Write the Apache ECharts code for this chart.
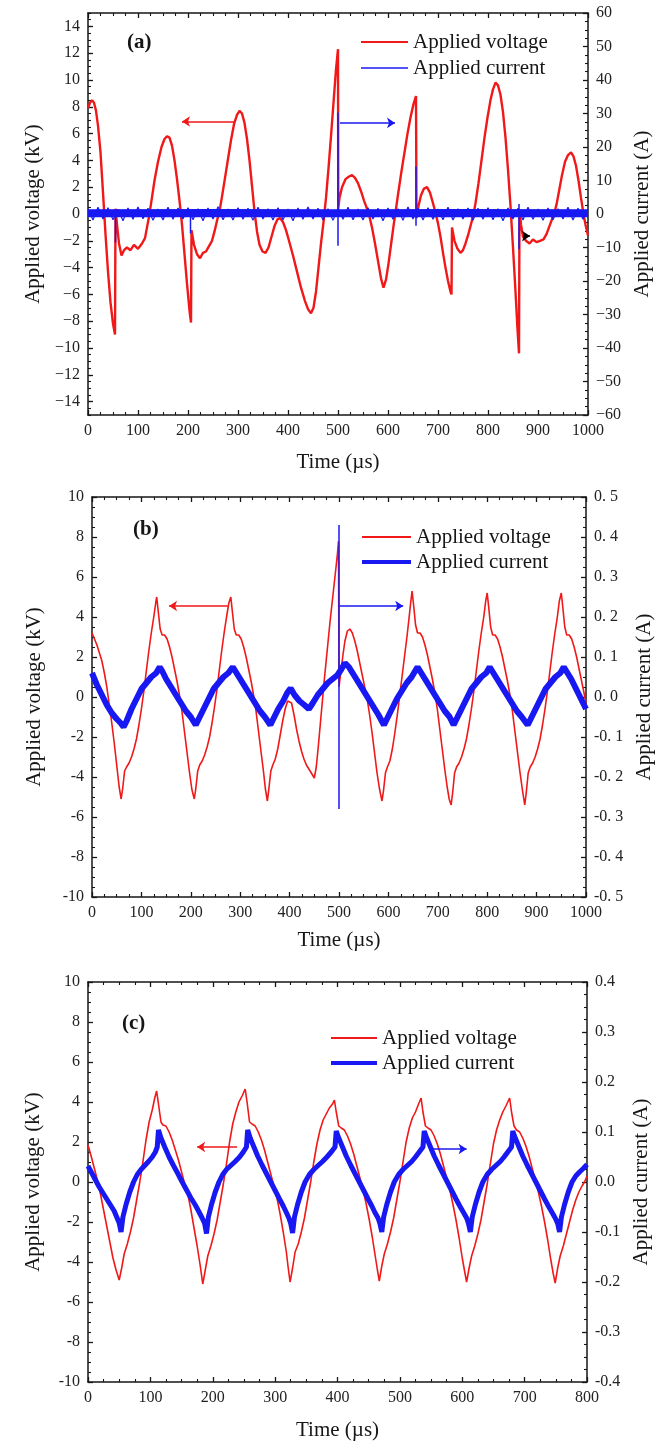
<!DOCTYPE html>
<html><head><meta charset="utf-8">
<script src="https://cdn.jsdelivr.net/npm/echarts@6/dist/echarts.min.js"></script>
<style>html,body{margin:0;padding:0;background:#fff}#c{width:665px;height:1443px}</style>
</head><body><div id="c"></div>
<script>
// ---------- DATA ----------
// Panel (a): time (µs), voltage (kV)
const aVoltage = [[0,7.9],[4,8.3],[8,8.5],[12,8.3],[16,7.7],[20,6.6],[25,4.6],[30,1.6],[35,-1.5],[40,-4.3],[45,-6.6],[50,-8.2],[54,-9.0],
[55,0.4],[58,-0.8],[62,-2.2],[67,-3.1],[72,-2.7],[78,-2.5],[85,-2.7],[92,-2.3],[100,-2.6],[108,-2.2],[114,-1.8],[118,-1.0],[122,-0.2],[127,1.0],[133,2.5],[140,3.9],[147,5.0],[153,5.6],[158,5.8],[163,5.7],[168,5.1],[173,4.0],[178,2.6],[183,1.0],[188,-0.8],[193,-3.0],[198,-5.2],[203,-7.2],[206,-8.1],
[207,-1.2],[212,-2.3],[218,-3.0],[224,-3.3],[230,-2.9],[236,-2.8],[242,-2.4],[248,-2.0],[253,-1.3],[258,-0.5],[263,0.2],[268,1.3],[274,2.7],[280,4.1],[286,5.5],[292,6.7],[298,7.4],[303,7.7],[308,7.5],[313,6.8],[318,5.6],[323,4.0],[328,2.1],[333,0.2],[338,-1.3],[343,-2.3],[349,-2.8],[355,-2.9],[361,-2.5],[367,-1.7],[373,-0.9],[379,-0.4],[384,-0.3],[390,-0.6],[396,-1.2],[402,-2.0],[410,-3.1],[418,-4.3],[426,-5.5],[434,-6.5],[440,-7.1],[446,-7.4],[451,-7.0],[456,-5.8],[461,-4.0],[466,-2.2],[471,-0.6],[476,1.2],[481,3.4],[486,5.8],[491,8.3],[496,10.8],[500,12.3],
[500.5,0.4],[503,1.2],[508,2.0],[515,2.6],[522,2.8],[528,2.9],[534,2.7],[540,2.3],[546,1.7],[552,1.0],[558,0.4],[563,-0.2],[568,-1.0],[574,-2.2],[580,-3.5],[586,-4.8],[591,-5.5],[596,-4.9],[601,-3.7],[606,-2.3],[611,-0.9],[616,0.4],[621,1.7],[627,3.2],[633,4.6],[639,6.0],[645,7.2],[651,8.2],[656,8.8],
[657,-0.3],[661,0.6],[666,1.4],[672,1.9],[678,2.0],[684,1.6],[690,0.8],[695,0.1],[700,-0.7],[705,-1.7],[710,-2.9],[715,-4.0],[720,-5.0],[725,-5.8],[727,-6.0],
[728,-1.0],[733,-2.0],[739,-2.6],[745,-2.9],[750,-2.7],[755,-2.2],[760,-1.6],[765,-0.9],[770,-0.2],[775,0.8],[781,2.3],[787,4.0],[793,5.7],[799,7.2],[805,8.5],[810,9.3],[815,9.8],[820,9.6],[825,8.9],[830,7.6],[835,5.7],[840,3.3],[845,0.6],[850,-2.5],[855,-5.8],[859,-8.6],[862,-10.4],
[863,0.3],[866,-0.8],[870,-1.7],[876,-2.0],[883,-2.2],[890,-1.9],[897,-2.1],[904,-2.0],[911,-1.9],[917,-1.5],[922,-1.0],[927,-0.5],[932,0.0],[937,0.7],[942,1.7],[948,2.9],[954,3.9],[960,4.4],[966,4.6],[971,4.3],[976,3.6],[981,2.5],[986,1.2],[991,0.0],[995,-0.8],[1000,-1.6]];
// Panel (a): current (A) – baseline band, its noise, and the discharge spikes
const aCurrentBand = [[0,0.2],[250,0.3],[500,0.2],[750,0.3],[1000,0.2]];
const aCurrentNoise = [[0,1.6],[10,-1.8],[20,2.0],[30,-1.5],[40,1.9],[50,-1.7],[60,1.4],[70,-2.0],[80,1.8],[90,-1.6],[100,2.1],[110,-1.4],[120,1.7],[130,-1.9],[140,1.5],[150,-1.8],[160,2.0],[170,-1.6],[180,1.8],[190,-1.5],[200,1.9],[210,-1.7],[220,1.6],[230,-2.0],[240,1.8],[250,-1.5],[260,2.2],[270,-1.7],[280,1.5],[290,-1.8],[300,1.9],[310,-1.6],[320,1.7],[330,-1.9],[340,2.0],[350,-1.5],[360,1.6],[370,-1.8],[380,1.9],[390,-1.7],[400,1.5],[410,-2.0],[420,1.8],[430,-1.6],[440,2.1],[450,-1.5],[460,1.7],[470,-1.8],[480,1.6],[490,-1.9],[500,1.8],[510,-1.6],[520,2.0],[530,-1.7],[540,1.5],[550,-1.8],[560,1.9],[570,-1.5],[580,1.7],[590,-2.0],[600,1.8],[610,-1.6],[620,1.6],[630,-1.9],[640,2.1],[650,-1.5],[660,1.7],[670,-1.8],[680,1.9],[690,-1.6],[700,1.5],[710,-1.7],[720,2.0],[730,-1.8],[740,1.6],[750,-1.5],[760,1.8],[770,-1.9],[780,1.7],[790,-1.6],[800,1.9],[810,-1.7],[820,1.6],[830,-2.0],[840,1.8],[850,-1.5],[860,1.7],[870,-1.8],[880,2.0],[890,-1.6],[900,1.5],[910,-1.9],[920,1.8],[930,-1.7],[940,1.6],[950,-1.5],[960,2.0],[970,-1.8],[980,1.7],[990,-1.6],[1000,1.5]];
const aCurrentSpikes = [[55,0.8],[55,-8.5],[55,'-'],[205,0.6],[205,-5.8],[205,'-'],[500,30.3],[500,-9.5],[500,'-'],[656,14.2],[656,-3.5],[656,'-'],[862,3.0],[862,-10.5]];

// Panel (b)
const bVoltage = [[0,3.2],[5,2.9],[10,2.6],[15,2.2],[20,1.8],[25,1.2],[30,0.5],[35,-0.4],[40,-1.3],[45,-2.3],[50,-3.4],[55,-4.5],[59,-5.1],[62,-4.6],[66,-3.7],[70,-3.5],[75,-3.3],[80,-3.0],[85,-2.6],[90,-2.1],[95,-1.4],[100,-0.6],[105,0.3],[110,1.3],[115,2.3],[120,3.2],[125,4.0],[129,4.7],[131,5.0],[134,4.3],[138,3.4],[142,3.1],[147,3.1],[152,2.9],[157,2.5],[162,2.0],[167,1.4],[172,0.8],[177,0.1],[182,-0.7],[187,-1.7],[192,-2.7],[197,-3.7],[202,-4.6],[207,-5.1],[210,-4.6],[214,-3.7],[218,-3.4],[223,-3.2],[228,-2.9],[233,-2.5],[238,-2.0],[243,-1.3],[248,-0.5],[253,0.4],[258,1.4],[263,2.4],[268,3.3],[273,4.1],[277,4.7],[281,5.0],[284,4.3],[288,3.4],[292,3.1],[297,3.1],[302,2.9],[307,2.5],[312,2.0],[317,1.4],[322,0.8],[327,0.1],[332,-0.7],[337,-1.7],[342,-2.7],[347,-3.7],[351,-4.6],[355,-5.2],[358,-4.6],[362,-3.7],[366,-3.4],[371,-3.1],[376,-2.6],[381,-1.9],[386,-1.2],[391,-0.6],[396,-0.2],[400,-0.1],[404,-0.3],[409,-0.9],[414,-1.6],[419,-2.2],[424,-2.7],[429,-3.1],[434,-3.4],[439,-3.6],[444,-3.8],[450,-4.05],[454,-3.5],[458,-2.5],[462,-1.4],[466,-0.3],[470,0.8],[474,1.8],[478,2.8],[482,3.8],[486,4.7],[490,5.6],[494,6.5],[497,7.2],[499,7.8],[500,0.5],[504,1.3],[508,2.1],[512,2.8],[517,3.3],[522,3.4],[527,3.2],[532,2.8],[537,2.3],[542,1.7],[547,1.1],[552,0.5],[557,-0.1],[562,-0.9],[567,-1.8],[572,-2.8],[577,-3.8],[582,-4.6],[587,-5.2],[590,-4.7],[594,-3.8],[598,-3.5],[603,-3.2],[608,-2.6],[613,-1.8],[618,-0.9],[623,0.1],[628,1.1],[633,2.1],[638,3.1],[642,4.0],[645,4.7],[648,5.3],[651,4.6],[655,3.6],[659,3.2],[664,3.2],[669,3.0],[674,2.6],[679,2.1],[684,1.5],[689,0.9],[694,0.2],[699,-0.6],[704,-1.6],[709,-2.6],[714,-3.6],[719,-4.5],[723,-5.1],[727,-5.4],[730,-4.8],[734,-3.8],[738,-3.5],[743,-3.3],[748,-3.0],[753,-2.6],[758,-2.1],[763,-1.4],[768,-0.6],[773,0.3],[778,1.3],[783,2.3],[788,3.2],[793,4.0],[797,4.8],[800,5.2],[803,4.5],[807,3.5],[811,3.1],[816,3.1],[821,2.9],[826,2.5],[831,2.0],[836,1.4],[841,0.8],[846,0.1],[851,-0.7],[856,-1.7],[861,-2.7],[866,-3.7],[871,-4.6],[876,-5.4],[879,-4.8],[883,-3.8],[887,-3.5],[892,-3.3],[897,-3.0],[902,-2.6],[907,-2.1],[912,-1.4],[917,-0.6],[922,0.3],[927,1.3],[932,2.3],[937,3.2],[942,4.0],[946,4.8],[950,5.2],[953,4.5],[957,3.5],[961,3.1],[966,3.1],[971,2.9],[976,2.5],[981,2.0],[986,1.4],[991,0.8],[996,0.2],[1000,-0.3]];
const bCurrent = [[0,0.06],[10,0.03],[20,0.005],[30,-0.02],[40,-0.04],[50,-0.055],[58,-0.065],[64,-0.075],[70,-0.06],[80,-0.03],[90,-0.005],[100,0.02],[110,0.035],[120,0.05],[130,0.06],[137,0.075],[142,0.065],[150,0.045],[160,0.025],[170,0.005],[180,-0.015],[190,-0.035],[200,-0.05],[210,-0.07],[216,-0.055],[226,-0.03],[236,-0.005],[246,0.02],[256,0.035],[266,0.05],[276,0.06],[285,0.075],[290,0.065],[300,0.045],[310,0.025],[320,0.005],[330,-0.015],[340,-0.035],[350,-0.05],[361,-0.07],[367,-0.055],[377,-0.03],[387,-0.01],[395,0.01],[402,0.022],[410,0.005],[420,-0.01],[430,-0.02],[439,-0.03],[447,-0.015],[457,0.005],[467,0.02],[477,0.035],[487,0.045],[497,0.055],[505,0.07],[512,0.085],[520,0.075],[530,0.055],[540,0.035],[550,0.015],[560,-0.005],[570,-0.025],[580,-0.045],[591,-0.07],[597,-0.055],[607,-0.03],[617,-0.005],[627,0.015],[637,0.035],[647,0.05],[659,0.075],[664,0.065],[674,0.045],[684,0.025],[694,0.005],[704,-0.015],[714,-0.035],[724,-0.05],[732,-0.07],[738,-0.055],[748,-0.03],[758,-0.005],[768,0.02],[778,0.035],[788,0.05],[798,0.06],[805,0.075],[810,0.065],[820,0.045],[830,0.025],[840,0.005],[850,-0.015],[860,-0.035],[870,-0.05],[882,-0.07],[888,-0.055],[898,-0.03],[908,-0.005],[918,0.02],[928,0.035],[938,0.05],[948,0.06],[955,0.075],[960,0.065],[970,0.045],[980,0.02],[990,-0.005],[1000,-0.03]];
const bCurrentSpike = [[500,0.43],[500,-0.28]];

// Panel (c)
const cVoltage = [[0,1.85],[5,1.3],[10,0.7],[15,0.1],[20,-0.6],[25,-1.4],[30,-2.2],[35,-3.0],[40,-3.8],[45,-4.4],[50,-4.9],[54,-4.3],[58,-3.6],[63,-3.1],[68,-2.5],[73,-1.8],[78,-0.9],[83,0.0],[88,1.0],[93,2.1],[98,3.0],[103,3.6],[107,4.2],[110,4.55],[113,3.9],[117,3.0],[120,2.85],[125,2.8],[130,2.5],[135,2.1],[140,1.6],[145,1.1],[150,0.5],[155,-0.1],[160,-0.6],[165,-1.4],[170,-2.3],[175,-3.2],[180,-4.2],[184,-5.1],[188,-4.4],[192,-3.7],[197,-3.2],[202,-2.6],[207,-1.9],[212,-1.0],[217,-0.1],[222,0.9],[227,2.0],[232,2.9],[237,3.5],[242,4.0],[247,4.3],[252,4.65],[255,4.0],[259,3.0],[263,2.9],[268,2.8],[273,2.5],[278,2.1],[283,1.6],[288,1.0],[293,0.4],[298,-0.2],[303,-0.8],[308,-1.6],[313,-2.5],[318,-3.5],[321,-4.3],[324,-5.0],[328,-4.3],[332,-3.5],[337,-3.1],[342,-2.5],[347,-1.8],[352,-0.9],[357,0.0],[362,1.0],[367,1.9],[372,2.6],[377,3.1],[382,3.4],[387,3.7],[392,3.9],[395,4.1],[398,3.5],[402,2.8],[406,2.7],[411,2.6],[416,2.3],[421,1.9],[426,1.4],[431,0.8],[436,0.2],[441,-0.4],[446,-1.1],[451,-1.9],[456,-2.8],[461,-3.8],[464,-4.4],[467,-4.95],[471,-4.2],[475,-3.6],[480,-3.1],[485,-2.5],[490,-1.8],[495,-0.9],[500,0.0],[505,1.0],[510,2.0],[515,2.7],[520,3.2],[525,3.5],[530,3.9],[534,4.2],[537,3.5],[541,2.8],[545,2.7],[550,2.6],[555,2.3],[560,1.9],[565,1.4],[570,0.8],[575,0.2],[580,-0.4],[585,-1.1],[590,-1.9],[595,-2.8],[600,-3.8],[604,-4.5],[607,-5.0],[611,-4.3],[615,-3.7],[620,-3.2],[625,-2.6],[630,-1.9],[635,-1.0],[640,-0.1],[645,0.9],[650,1.9],[655,2.6],[660,3.1],[665,3.5],[670,3.8],[673,4.0],[676,4.2],[679,3.5],[683,2.8],[687,2.6],[692,2.5],[697,2.2],[702,1.8],[707,1.3],[712,0.7],[717,0.1],[722,-0.5],[727,-1.2],[732,-2.0],[737,-2.9],[742,-3.9],[746,-4.6],[749,-5.05],[753,-4.3],[757,-3.7],[762,-3.2],[767,-2.6],[772,-2.0],[777,-1.4],[782,-0.9],[787,-0.5],[792,-0.2],[796,0.0],[800,0.3]];
const cCurrent = [[0,0.032],[6,0.018],[12,0.004],[18,-0.01],[24,-0.022],[30,-0.034],[36,-0.046],[42,-0.058],[46,-0.07],[50,-0.082],[53,-0.1],
[56,-0.07],[61,-0.045],[67,-0.02],[73,0.0],[79,0.015],[85,0.025],[91,0.033],[97,0.041],[103,0.05],[108,0.06],[111,0.07],[113,0.104],
[117,0.088],[123,0.07],[130,0.05],[137,0.033],[144,0.017],[151,0.0],[158,-0.016],[165,-0.032],[172,-0.046],[178,-0.06],[183,-0.072],[187,-0.083],[190,-0.103],
[193,-0.07],[198,-0.045],[204,-0.02],[210,0.0],[216,0.015],[222,0.025],[229,0.033],[236,0.041],[243,0.05],[249,0.06],[254,0.07],[256,0.104],
[260,0.088],[266,0.07],[272,0.052],[279,0.034],[286,0.017],[293,0.0],[300,-0.017],[307,-0.034],[313,-0.048],[318,-0.061],[322,-0.072],[325,-0.083],[328,-0.102],
[331,-0.07],[336,-0.045],[342,-0.02],[348,0.0],[355,0.015],[362,0.025],[369,0.033],[376,0.041],[383,0.05],[390,0.06],[396,0.07],[398,0.102],
[402,0.088],[408,0.07],[414,0.052],[421,0.034],[428,0.017],[435,0.0],[442,-0.017],[449,-0.034],[455,-0.048],[460,-0.061],[465,-0.072],[468,-0.083],[471,-0.1],
[474,-0.07],[479,-0.045],[485,-0.02],[491,0.0],[498,0.015],[505,0.025],[512,0.033],[519,0.041],[525,0.05],[531,0.06],[537,0.07],[539,0.102],
[543,0.088],[549,0.07],[555,0.052],[562,0.034],[569,0.017],[576,0.0],[583,-0.017],[590,-0.034],[596,-0.048],[602,-0.061],[607,-0.072],[610,-0.083],[613,-0.1],
[616,-0.07],[621,-0.045],[627,-0.02],[633,0.0],[640,0.015],[647,0.025],[654,0.033],[661,0.041],[667,0.05],[673,0.06],[679,0.07],[681,0.102],
[685,0.088],[691,0.07],[697,0.052],[704,0.034],[711,0.017],[718,0.0],[725,-0.017],[732,-0.034],[738,-0.048],[744,-0.061],[749,-0.072],[753,-0.083],[756,-0.1],
[759,-0.07],[764,-0.045],[770,-0.02],[776,0.0],[782,0.012],[788,0.02],[794,0.027],[800,0.035]];

// Tick labels for panel (a) voltage axis
const aVoltTicks = [-14,-12,-10,-8,-6,-4,-2,0,2,4,6,8,10,12,14];

// ---------- STYLE ----------
const FONT = 'Liberation Serif';
const RED = '#f01818', BLUE = '#1818f2', INK = '#161616';
const tickLbl = {fontFamily: FONT, fontSize: 16, color: '#222', margin: 8};
const nameStyle = {fontFamily: FONT, fontSize: 21, color: INK};
const lineCommon = {axisLine: {show: true, onZero: false, lineStyle: {color: INK, width: 1.5}},
  splitLine: {show: false}, minorSplitLine: {show: false}};
const minus = v => (v < 0 ? '\u2212' + (-v) : String(v));

function xPair(gi, max, gap) {
  const base = Object.assign({type: 'value', gridIndex: gi, min: 0, max: max, interval: 100,
    axisTick: {show: true, inside: true, length: 5, lineStyle: {color: INK, width: 1.3}},
    minorTick: {show: true, splitNumber: 4, length: 3, lineStyle: {color: INK, width: 1.1}}}, lineCommon);
  return [
    Object.assign({}, base, {position: 'bottom', name: 'Time (\u00b5s)', nameLocation: 'middle', nameGap: gap,
      nameTextStyle: nameStyle, axisLabel: Object.assign({formatter: v => String(v)}, tickLbl)}),
    Object.assign({}, base, {position: 'top', axisLabel: {show: false}})
  ];
}
function yAx(gi, pos, min, max, interval, name, gap, fmt) {
  return Object.assign({type: 'value', gridIndex: gi, position: pos, min: min, max: max, interval: interval,
    name: name, nameLocation: 'middle', nameGap: gap, nameRotate: 90, nameTextStyle: nameStyle,
    axisLabel: Object.assign({formatter: fmt}, tickLbl),
    axisTick: {show: true, inside: true, length: 5, lineStyle: {color: INK, width: 1.3}},
    minorTick: {show: true, splitNumber: 4, length: 3, lineStyle: {color: INK, width: 1.1}}}, lineCommon);
}

const yA0 = yAx(0, 'left', -15, 15, 1, 'Applied voltage (kV)', 44, minus);
yA0.axisLabel.customValues = aVoltTicks;
yA0.axisTick.customValues = aVoltTicks;
yA0.minorTick = {show: false};
const yAminor = {type: 'value', gridIndex: 0, position: 'left', min: -15, max: 15, interval: 0.5,
  axisLine: {show: false}, axisLabel: {show: false}, splitLine: {show: false},
  axisTick: {show: true, inside: true, length: 3, lineStyle: {color: INK, width: 1.1}}};

const fmtB = v => (Math.abs(v) < 1e-9 ? 0 : v).toFixed(1).replace('.', '. ');
const fmtC = v => (Math.abs(v) < 1e-9 ? 0 : v).toFixed(1);

const arrow = (color, pairs) => ({silent: true, symbol: ['none', 'arrow'], symbolSize: 8, animation: false,
  label: {show: false}, emphasis: {disabled: true}, lineStyle: {color: color, width: 1.5, type: 'solid'},
  data: pairs});

function legendItem(name, color, left, top, w, h) {
  return {data: [name], left: left, top: top, orient: 'vertical', icon: 'rect', itemWidth: w, itemHeight: h,
    itemStyle: {color: color, borderWidth: 0}, selectedMode: false,
    textStyle: {fontFamily: FONT, fontSize: 21, color: INK, lineHeight: 22}};
}
const lineSeries = (name, xi, yi, data, color, width, extra) => Object.assign({
  type: 'line', name: name, xAxisIndex: xi, yAxisIndex: yi, data: data, symbol: 'none', showSymbol: false,
  animation: false, sampling: null, connectNulls: false, lineStyle: {color: color, width: width},
  itemStyle: {color: color}, emphasis: {disabled: true}}, extra || {});

const option = {
  backgroundColor: '#fff',
  animation: false,
  grid: [
    {left: 88, top: 13, width: 500, height: 402, outerBoundsMode: 'none'},
    {left: 92, top: 497, width: 494, height: 400, outerBoundsMode: 'none'},
    {left: 88, top: 982, width: 499, height: 400, outerBoundsMode: 'none'}
  ],
  title: [
    {text: '(a)', left: 122, top: 27, textStyle: {fontFamily: FONT, fontSize: 21, fontWeight: 'bold', color: INK}},
    {text: '(b)', left: 128, top: 514, textStyle: {fontFamily: FONT, fontSize: 21, fontWeight: 'bold', color: INK}},
    {text: '(c)', left: 117, top: 1008, textStyle: {fontFamily: FONT, fontSize: 21, fontWeight: 'bold', color: INK}}
  ],
  legend: [
    legendItem('Applied voltage', RED, 356, 26, 47, 2),
    legendItem('Applied current', BLUE, 356, 52, 47, 1.5),
    legendItem('Applied voltage', RED, 357, 521, 49, 2),
    legendItem('Applied current', BLUE, 357, 546, 49, 4),
    legendItem('Applied voltage', RED, 326, 1022, 46, 2),
    legendItem('Applied current', BLUE, 326, 1047, 46, 4)
  ],
  xAxis: [].concat(xPair(0, 1000, 37), xPair(1, 1000, 33), xPair(2, 800, 38)),
  yAxis: [
    yA0,
    yAx(0, 'right', -60, 60, 10, 'Applied current (A)', 41, minus),
    yAminor,
    yAx(1, 'left', -10, 10, 2, 'Applied voltage (kV)', 47, v => String(v)),
    yAx(1, 'right', -0.5, 0.5, 0.1, 'Applied current (A)', 46, fmtB),
    yAx(2, 'left', -10, 10, 2, 'Applied voltage (kV)', 44, v => String(v)),
    yAx(2, 'right', -0.4, 0.4, 0.1, 'Applied current (A)', 36, fmtC)
  ],
  series: [
    lineSeries('Applied voltage', 0, 0, aVoltage, RED, 2.4, {
      markLine: arrow(RED, [
        [{coord: [294, 6.9]}, {coord: [188, 6.9]}],
        [{coord: [870, -1.65], lineStyle: {color: '#000', width: 1.5}}, {coord: [884, -1.65]}]
      ])}),
    lineSeries('Applied current', 0, 1, aCurrentBand, BLUE, 8),
    lineSeries('Applied current', 0, 1, aCurrentNoise, BLUE, 1.2),
    lineSeries('Applied current', 0, 1, aCurrentSpikes, BLUE, 1.5, {
      markLine: arrow(BLUE, [[{coord: [504, 27.2]}, {coord: [614, 27.2]}]])}),
    lineSeries('Applied voltage', 2, 3, bVoltage, RED, 1.6, {
      markLine: arrow(RED, [[{coord: [275, 4.55]}, {coord: [156, 4.55]}]])}),
    lineSeries('Applied current', 2, 4, bCurrent, BLUE, 6),
    lineSeries('Applied current', 2, 4, bCurrentSpike, BLUE, 1.5, {
      markLine: arrow(BLUE, [[{coord: [500, 0.2275]}, {coord: [630, 0.2275]}]])}),
    lineSeries('Applied voltage', 4, 5, cVoltage, RED, 1.6, {
      markLine: arrow(RED, [[{coord: [239, 1.75]}, {coord: [175, 1.75]}]])}),
    lineSeries('Applied current', 4, 6, cCurrent, BLUE, 5, {
      markLine: arrow(BLUE, [[{coord: [550, 0.066]}, {coord: [607, 0.066]}]])})
  ]
};
const chart = echarts.init(document.getElementById('c'), null, {renderer: 'canvas'});
chart.setOption(option);
</script></body></html>
